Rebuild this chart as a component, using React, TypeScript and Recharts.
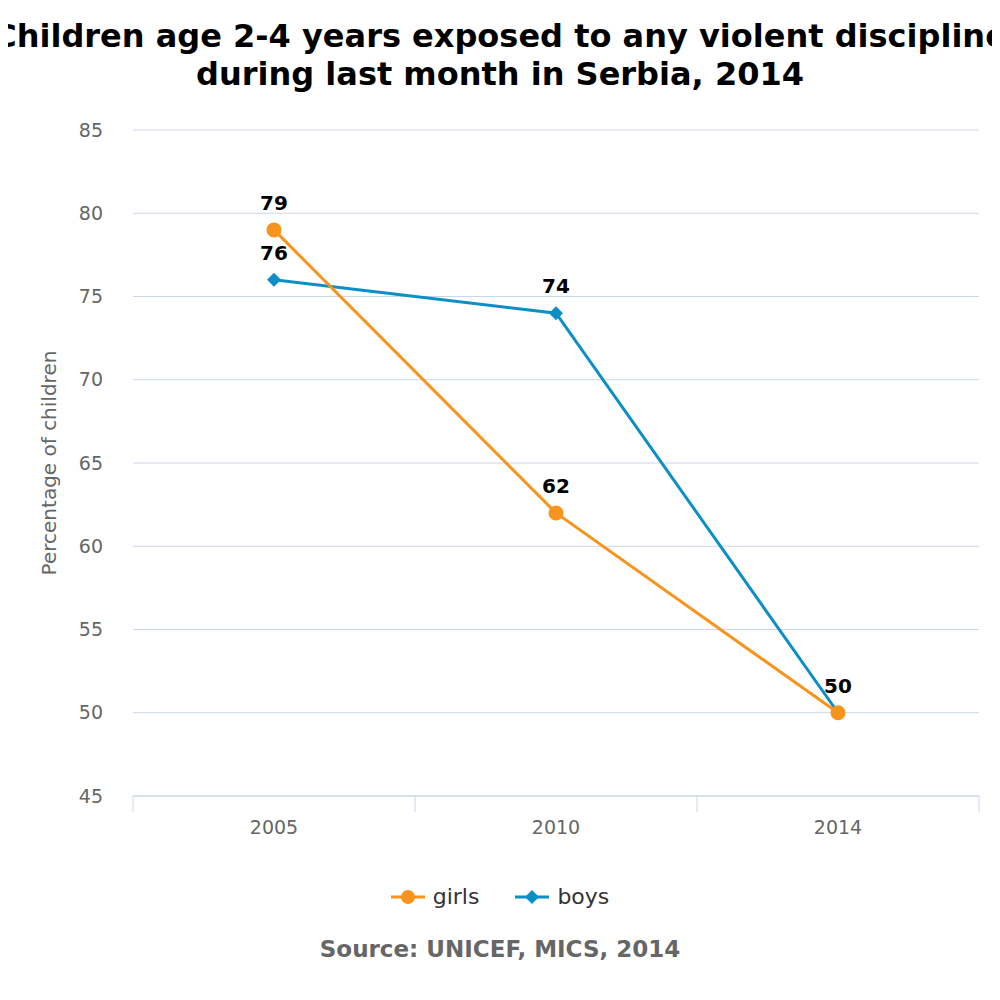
import React from 'react';
import { LineChart, Line, XAxis, YAxis, CartesianGrid, LabelList } from 'recharts';

const years = ['2005', '2010', '2014'];
const girls = [79, 62, 50];
const boys = [76, 74, 50];
const yTicks = [45, 50, 55, 60, 65, 70, 75, 80, 85];

const data = years.map((y, i) => ({ pos: i + 0.5, year: y, girls: girls[i], boys: boys[i] }));

const ORANGE = '#f7941d';
const BLUE = '#0b8fc6';
const font = 'Verdana, "DejaVu Sans", sans-serif';

const XTick = (props: any) => {
  const { x, y, payload, index } = props;
  const half = props.band;
  return (
    <g>
      <line x1={x} y1={y} x2={x} y2={y + 16} stroke="#ccd6eb" strokeWidth={1} />
      {index < years.length && (
        <text x={x + half} y={y + 38} textAnchor="middle" fill="#666" fontSize={19} fontFamily={font}>
          {years[payload.value]}
        </text>
      )}
    </g>
  );
};

const Diamond = (props: any) => {
  const { cx, cy } = props;
  if (cx == null) return null;
  return <polygon points={`${cx},${cy - 7} ${cx + 7},${cy} ${cx},${cy + 7} ${cx - 7},${cy}`} fill={BLUE} />;
};

const makeLabel = (skip: number[]) => (props: any) => {
  const { x, y, value, index } = props;
  if (skip.includes(index)) return null;
  return (
    <text x={x} y={y - 20} textAnchor="middle" fontSize={20} fontWeight="bold" fill="#000" fontFamily={font}>
      {value}
    </text>
  );
};

export default function App() {
  return (
    <div style={{ position: 'relative', width: 1000, height: 1000, margin: -8, background: '#fff', fontFamily: font, overflow: 'hidden' }}>
      <div style={{ position: 'absolute', top: 17, left: -40, width: 1080, textAlign: 'center', fontSize: 32, fontWeight: 'bold', lineHeight: '38px', color: '#000', whiteSpace: 'nowrap' }}>
        Children age 2-4 years exposed to any violent discipline
        <br />
        during last month in Serbia, 2014
      </div>
      <div style={{ position: 'absolute', top: 0, left: 0 }}>
        <LineChart width={1000} height={1000} data={data} margin={{ top: 130, right: 21, bottom: 144, left: 0 }}>
          <CartesianGrid horizontal vertical={false} stroke="#ccd6eb" />
          <XAxis
            dataKey="pos"
            type="number"
            domain={[0, 3]}
            ticks={[0, 1, 2, 3]}
            height={60}
            tickLine={false}
            tickSize={0}
            tickMargin={0}
            stroke="#ccd6eb"
            tick={<XTick band={141} />}
            interval={0}
          />
          <YAxis
            domain={[45, 85]}
            ticks={yTicks}
            width={133}
            axisLine={false}
            tickLine={false}
            tick={{ fill: '#666', fontSize: 19, fontFamily: font, dx: -22 }}
            label={{ value: 'Percentage of children', angle: -90, position: 'center', dx: -18, fill: '#666', fontSize: 20, fontFamily: font }}
          />
          <Line dataKey="boys" stroke={BLUE} strokeWidth={3} dot={<Diamond />} isAnimationActive={false}>
            <LabelList dataKey="boys" content={makeLabel([])} />
          </Line>
          <Line dataKey="girls" stroke={ORANGE} strokeWidth={3} dot={{ r: 6, fill: ORANGE, stroke: ORANGE }} isAnimationActive={false}>
            <LabelList dataKey="girls" content={makeLabel([2])} />
          </Line>
        </LineChart>
      </div>
      <div style={{ position: 'absolute', top: 884, left: 0, width: 1000, display: 'flex', justifyContent: 'center', fontSize: 22, color: '#333' }}>
        <span style={{ display: 'flex', alignItems: 'center', marginRight: 36 }}>
          <svg width={34} height={16}><line x1={0} y1={8} x2={34} y2={8} stroke={ORANGE} strokeWidth={3} /><circle cx={17} cy={8} r={7} fill={ORANGE} /></svg>
          <span style={{ marginLeft: 8 }}>girls</span>
        </span>
        <span style={{ display: 'flex', alignItems: 'center' }}>
          <svg width={34} height={16}><line x1={0} y1={8} x2={34} y2={8} stroke={BLUE} strokeWidth={3} /><polygon points="17,1 24,8 17,15 10,8" fill={BLUE} /></svg>
          <span style={{ marginLeft: 8 }}>boys</span>
        </span>
      </div>
      <div style={{ position: 'absolute', top: 936, left: 0, width: 1000, textAlign: 'center', fontSize: 23, fontWeight: 'bold', color: '#666' }}>
        Source: UNICEF, MICS, 2014
      </div>
    </div>
  );
}
